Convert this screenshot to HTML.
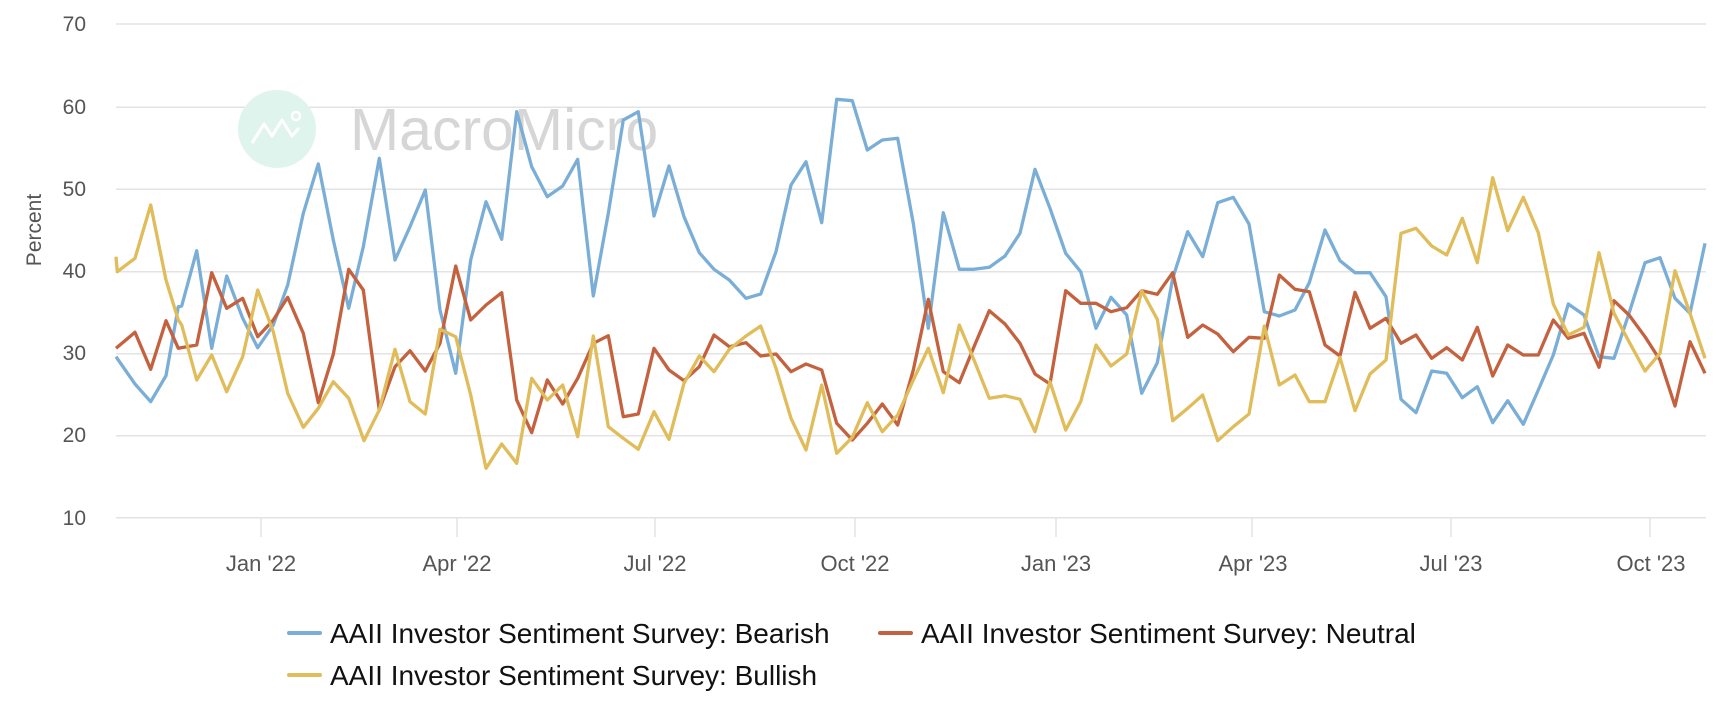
<!DOCTYPE html>
<html><head><meta charset="utf-8">
<style>
html,body{margin:0;padding:0;background:#fff;}
svg{display:block;}
text{font-family:"Liberation Sans",Arial,sans-serif;}
</style></head>
<body>
<svg id="c" width="1734" height="708" viewBox="0 0 1734 708" xmlns="http://www.w3.org/2000/svg">
<g stroke="#e3e3e3" stroke-width="1.5">
<line x1="116" y1="24" x2="1706" y2="24"/>
<line x1="116" y1="107.3" x2="1706" y2="107.3"/>
<line x1="116" y1="189.3" x2="1706" y2="189.3"/>
<line x1="116" y1="271.7" x2="1706" y2="271.7"/>
<line x1="116" y1="353.7" x2="1706" y2="353.7"/>
<line x1="116" y1="435.7" x2="1706" y2="435.7"/>
<line x1="116" y1="517.7" x2="1706" y2="517.7"/>
<line x1="261" y1="518" x2="261" y2="537"/>
<line x1="457" y1="518" x2="457" y2="537"/>
<line x1="655" y1="518" x2="655" y2="537"/>
<line x1="855" y1="518" x2="855" y2="537"/>
<line x1="1056" y1="518" x2="1056" y2="537"/>
<line x1="1252" y1="518" x2="1252" y2="537"/>
<line x1="1451" y1="518" x2="1451" y2="537"/>
<line x1="1650" y1="518" x2="1650" y2="537"/>
</g>
<g font-size="21" fill="#555" text-anchor="end">
<text x="86" y="31">70</text>
<text x="86" y="114">60</text>
<text x="86" y="196">50</text>
<text x="86" y="278">40</text>
<text x="86" y="360">30</text>
<text x="86" y="442">20</text>
<text x="86" y="525">10</text>
</g>
<text x="0" y="0" font-size="21" fill="#555" text-anchor="middle" transform="translate(41,230) rotate(-90)">Percent</text>
<g font-size="22" fill="#555" text-anchor="middle">
<text x="261" y="571">Jan '22</text>
<text x="457" y="571">Apr '22</text>
<text x="655" y="571">Jul '22</text>
<text x="855" y="571">Oct '22</text>
<text x="1056" y="571">Jan '23</text>
<text x="1253" y="571">Apr '23</text>
<text x="1451" y="571">Jul '23</text>
<text x="1651" y="571">Oct '23</text>
</g>
<circle cx="277" cy="129" r="39" fill="#dff4ec"/>
<polyline points="252,143 264,124 272,136 282,120 292,136 299,128" fill="none" stroke="#fff" stroke-width="3" stroke-linejoin="round"/>
<circle cx="296" cy="116" r="4" fill="none" stroke="#fff" stroke-width="2.5"/>
<text x="350" y="150" font-size="59" fill="#cccccc" fill-opacity="0.8">MacroMicro</text>
<g id="series" fill="none" stroke-width="3.3" stroke-linejoin="round"></g>
<g font-size="28" fill="#111">
<line x1="289" y1="633" x2="320" y2="633" stroke="#7aaed6" stroke-width="4" stroke-linecap="round"/>
<text x="330" y="643">AAII Investor Sentiment Survey: Bearish</text>
<line x1="880" y1="633" x2="911" y2="633" stroke="#c4623f" stroke-width="4" stroke-linecap="round"/>
<text x="921" y="643">AAII Investor Sentiment Survey: Neutral</text>
<line x1="289" y1="675" x2="320" y2="675" stroke="#e0bc5a" stroke-width="4" stroke-linecap="round"/>
<text x="330" y="685">AAII Investor Sentiment Survey: Bullish</text>
</g>
</svg>
<script>
var segs={
blue:[[110,[18,830,75,912,122,965,168,887,205,680,215,678,260,512,305,805,350,588,398,715,443,803,490,735,533,615,580,400,625,252,670,480,716,685,760,500,808,235,855,540,900,440,946,330,990,690,1037,880,1082,540,1128,365,1175,478,1220,95]],
[510,[65,260,112,350,158,318,203,238,250,648,295,400,340,120,385,95,432,408,477,258,522,410,568,518,612,568,658,600,708,655,752,642,798,515,843,315,888,245,935,428,980,58,1027,62,1072,210,1117,180,1163,175,1210,430,1255,745]],
[910,[100,398,148,568,192,568,238,562,285,528,330,460,375,268,420,385,467,520,512,575,558,745,603,652,650,705,695,940,742,848,788,595,833,455,878,530,923,368,970,352,1017,432,1063,695,1108,708,1155,690,1198,608,1245,450]],
[1300,[120,542,165,578,210,578,258,650,303,958,348,998,395,873,440,880,487,953,532,920,578,1028,623,962,670,1033,715,930,760,825,805,672,852,705,897,830,942,835,987,700,1035,548,1080,533,1125,655,1170,700,1215,490]]],
red:[[110,[18,805,75,757,122,868,168,722,205,805,260,795,305,578,350,685,398,655,443,770,490,720,533,652,580,760,625,968,670,823,716,568,760,630,808,990,855,860,900,812,946,873,990,790,1037,558,1082,720,1128,675,1175,638,1220,960]],
[510,[65,1058,112,900,158,972,203,895,250,790,295,767,340,1010,385,1002,432,805,477,870,522,902,568,860,612,765,658,800,708,788,752,828,798,822,843,875,888,852,935,870,980,1030,1027,1080,1072,1030,1117,972,1163,1035,1210,870,1255,658]],
[910,[100,875,148,908,192,800,238,692,285,732,330,790,375,882,420,912,467,632,512,670,558,670,603,695,650,683,695,632,742,643,788,578,833,772,878,735,923,762,970,815,1017,772,1063,775,1108,585,1155,628,1198,635,1245,795]],
[1300,[120,828,165,637,210,745,258,715,303,790,348,765,395,835,440,803,487,840,532,742,578,888,623,795,670,825,715,825,760,720,805,775,852,760,897,862,942,662,987,705,1035,770,1080,840,1125,978,1170,785,1215,880]]],
yellow:[[110,[18,530,22,575,75,535,122,375,168,600,205,720,215,735,260,900,305,825,350,935,398,830,443,630,490,755,533,940,580,1042,625,985,670,905,716,955,762,1082,808,990,855,808,900,965,946,1002,990,748,1037,770,1082,945,1128,1165,1175,1092,1220,1150]],
[510,[65,895,112,960,158,915,203,1070,250,768,295,1040,340,1075,385,1108,432,995,477,1078,522,910,568,828,612,875,658,808,708,768,752,738,798,865,843,1015,888,1110,935,915,980,1120,1027,1072,1072,968,1117,1055,1163,1005,1210,900,1255,805]],
[910,[100,938,148,735,192,840,238,955,285,947,330,958,375,1055,420,905,467,1050,512,965,558,795,603,858,650,822,695,632,742,718,788,1022,833,985,878,945,923,1082,970,1040,1017,1002,1063,738,1108,915,1155,885,1198,965,1245,965]],
[1300,[120,832,165,992,210,882,258,840,303,460,348,445,395,498,440,525,487,415,532,548,578,293,623,452,670,352,715,458,760,672,805,765,852,742,897,518,942,700,987,785,1035,873,1080,820,1125,572,1170,700,1215,835]]]
};
var cols={blue:"#7aaed6",red:"#c4623f",yellow:"#e0bc5a"};
var g=document.getElementById("series");
["blue","red","yellow"].forEach(function(k){
 var pts=[];
 segs[k].forEach(function(s){var o=s[0],a=s[1];for(var i=0;i<a.length;i+=2){pts.push((o+a[i]/3).toFixed(1)+","+(80+a[i+1]/3).toFixed(1));}});
 var p=document.createElementNS("http://www.w3.org/2000/svg","polyline");
 p.setAttribute("points",pts.join(" "));p.setAttribute("stroke",cols[k]);
 g.appendChild(p);
});
</script>
</body></html>
